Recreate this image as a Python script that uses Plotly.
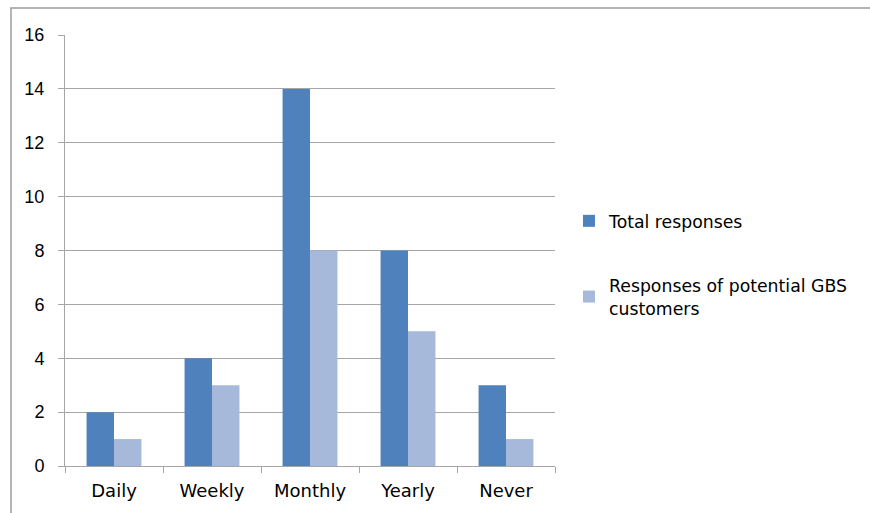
import plotly.graph_objects as go

categories = ["Daily", "Weekly", "Monthly", "Yearly", "Never"]
total_responses = [2, 4, 14, 8, 3]
gbs_responses = [1, 3, 8, 5, 1]
y_ticks = list(range(0, 17, 2))

grid = "#A6A6A6"
text_font = dict(family="DejaVu Sans", size=18, color="#000000")
legend_font = dict(family="DejaVu Sans", size=17.3, color="#000000")
num_font = dict(family="Liberation Sans", size=18, color="#000000")

fig = go.Figure()
fig.add_trace(go.Bar(
    x=categories, y=total_responses, name="Total responses",
    marker=dict(color="#4F81BD", line=dict(width=0)), legendgroup="a",
))
fig.add_trace(go.Bar(
    x=categories, y=gbs_responses, name="Responses of potential GBS<br>customers",
    marker=dict(color="#A7B9DA", line=dict(width=0)), legendgroup="b",
))

fig.update_layout(
    width=870, height=513,
    margin=dict(l=65, r=315, t=35, b=47),
    paper_bgcolor="white", plot_bgcolor="white",
    font=text_font,
    barmode="group", bargap=0.44, bargroupgap=0,
    showlegend=True,
    legend=dict(
        x=1.0286, y=0.61, xanchor="left", yanchor="top",
        traceorder="grouped", tracegroupgap=39,
        font=legend_font, itemwidth=30,
    ),
    xaxis=dict(
        type="category", showgrid=False, showline=True, linecolor=grid, linewidth=1,
        ticks="outside", tickson="boundaries", ticklen=6, tickcolor=grid,
        tickfont=text_font, ticklabelstandoff=8,
    ),
    yaxis=dict(
        range=[0, 16], tickvals=y_ticks, showgrid=True, gridcolor=grid, gridwidth=1,
        showline=True, linecolor=grid, linewidth=1, zeroline=False,
        ticks="outside", ticklen=6, tickcolor=grid, tickfont=num_font,
        ticklabelstandoff=10,
    ),
    shapes=[dict(
        type="rect", xref="paper", yref="paper", layer="below",
        x0=-54 / 490, x1=1.7, y0=-0.2, y1=(466 - 8) / 431,
        line=dict(color="#9C9C9C", width=1.5), fillcolor="rgba(0,0,0,0)",
    )],
)

fig.write_html("out.html")
